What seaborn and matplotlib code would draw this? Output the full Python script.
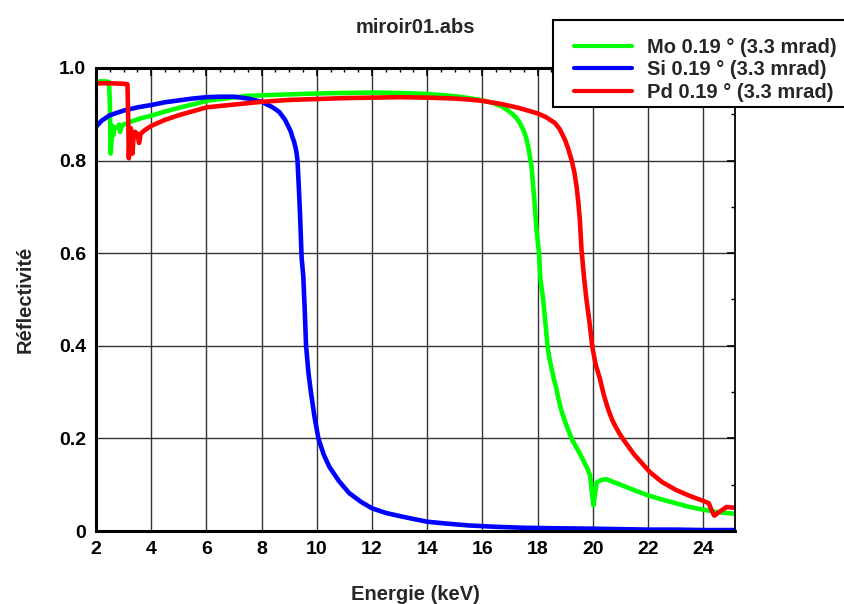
import numpy as np
import pandas as pd
import matplotlib
matplotlib.use("Agg")
import matplotlib.pyplot as plt
from matplotlib.patches import Rectangle
from matplotlib.ticker import MultipleLocator, FuncFormatter
import seaborn as sns

# Reflectivity curves of three mirror coatings at 0.19 deg grazing incidence
mo_energy = [2.0, 2.3, 2.47, 2.50, 2.53, 2.56, 2.60, 2.63, 2.66, 2.75, 2.84, 2.87, 2.91,
             3.0, 3.3, 3.6, 4.0, 4.5, 5.0, 6.1, 7.5, 8.0, 9.0, 10.0, 11.0, 12.0, 13.0,
             14.0, 15.0, 15.5, 16.0, 16.4, 16.7, 17.0, 17.2, 17.35, 17.5, 17.58, 17.66,
             17.78, 17.87, 17.96, 18.05, 18.1, 18.2, 18.28, 18.36, 18.43, 18.5, 18.58,
             18.67, 18.75, 18.85, 19.0, 19.24, 19.53, 19.8, 19.9, 20.02, 20.08, 20.14,
             20.3, 20.48, 21.0, 21.5, 22.0, 22.5, 23.0, 23.5, 24.0, 24.5, 25.15]
mo_refl = [0.971, 0.971, 0.970, 0.930, 0.815, 0.840, 0.875, 0.855, 0.870, 0.872, 0.878,
           0.862, 0.872, 0.878, 0.885, 0.891, 0.897, 0.906, 0.914, 0.930, 0.940, 0.941,
           0.943, 0.945, 0.946, 0.947, 0.946, 0.944, 0.939, 0.935, 0.930, 0.924, 0.917,
           0.905, 0.894, 0.882, 0.864, 0.850, 0.830, 0.787, 0.722, 0.650, 0.600, 0.545,
           0.500, 0.450, 0.398, 0.372, 0.352, 0.330, 0.310, 0.287, 0.262, 0.235, 0.198,
           0.167, 0.135, 0.120, 0.055, 0.080, 0.105, 0.110, 0.112, 0.100, 0.088, 0.077,
           0.068, 0.060, 0.052, 0.046, 0.041, 0.037]

si_energy = [2.0, 2.2, 2.5, 3.0, 3.5, 4.0, 4.5, 5.0, 5.5, 6.0, 6.5, 7.0, 7.5, 8.0, 8.4,
             8.64, 8.85, 9.0, 9.06, 9.12, 9.18, 9.24, 9.27, 9.30, 9.35, 9.39, 9.45, 9.51,
             9.56, 9.61, 9.70, 9.79, 9.92, 10.06, 10.15, 10.25, 10.45, 10.8, 11.17, 11.6,
             12.0, 12.5, 13.1, 13.5, 14.0, 14.7, 15.5, 16.5, 17.5, 18.5, 20.0, 21.0, 22.0,
             23.0, 24.0, 25.15]
si_refl = [0.873, 0.886, 0.898, 0.908, 0.915, 0.920, 0.926, 0.930, 0.934, 0.937, 0.938,
           0.938, 0.934, 0.927, 0.915, 0.905, 0.888, 0.870, 0.862, 0.850, 0.840, 0.825,
           0.815, 0.800, 0.740, 0.687, 0.590, 0.550, 0.480, 0.400, 0.340, 0.298, 0.245,
           0.199, 0.183, 0.165, 0.139, 0.108, 0.082, 0.063, 0.049, 0.039, 0.031, 0.026,
           0.020, 0.016, 0.012, 0.009, 0.007, 0.006, 0.005, 0.004, 0.003, 0.003, 0.002,
           0.002]

pd_energy = [2.0, 2.5, 3.0, 3.14, 3.17, 3.19, 3.22, 3.26, 3.29, 3.32, 3.36, 3.42, 3.50,
             3.56, 3.62, 3.75, 4.0, 4.5, 5.0, 6.0, 7.0, 8.0, 9.0, 10.0, 11.0, 12.0, 13.0,
             14.0, 15.0, 15.5, 16.0, 16.7, 17.3, 18.0, 18.3, 18.63, 18.8, 18.99, 19.1,
             19.23, 19.33, 19.41, 19.47, 19.53, 19.59, 19.69, 19.77, 19.88, 19.98, 20.1,
             20.26, 20.4, 20.56, 20.7, 20.8, 20.95, 21.1, 21.5, 22.07, 22.5, 23.0, 23.5,
             24.0, 24.2, 24.3, 24.4, 24.55, 24.85, 25.15]
pd_refl = [0.967, 0.967, 0.966, 0.965, 0.880, 0.805, 0.860, 0.870, 0.862, 0.815, 0.850,
           0.862, 0.857, 0.838, 0.858, 0.865, 0.875, 0.888, 0.898, 0.915, 0.921, 0.927,
           0.931, 0.933, 0.935, 0.936, 0.937, 0.936, 0.934, 0.932, 0.929, 0.922, 0.914,
           0.902, 0.894, 0.881, 0.868, 0.845, 0.827, 0.801, 0.775, 0.744, 0.712, 0.672,
           0.607, 0.542, 0.499, 0.450, 0.398, 0.360, 0.328, 0.293, 0.262, 0.240, 0.228,
           0.212, 0.198, 0.165, 0.127, 0.106, 0.089, 0.076, 0.065, 0.060, 0.045, 0.033,
           0.040, 0.052, 0.050]

series_labels = ["Mo 0.19 ° (3.3 mrad)", "Si 0.19 ° (3.3 mrad)", "Pd 0.19 ° (3.3 mrad)"]
series_colors = ["#00ff00", "#0000ff", "#ff0000"]
x_ticks = [2, 4, 6, 8, 10, 12, 14, 16, 18, 20, 22, 24]
y_ticks = [0.0, 0.2, 0.4, 0.6, 0.8, 1.0]

frames = []
for label, e, r in zip(series_labels,
                       [mo_energy, si_energy, pd_energy],
                       [mo_refl, si_refl, pd_refl]):
    frames.append(pd.DataFrame({"Energie": e, "Reflectivite": r, "serie": label}))
data = pd.concat(frames, ignore_index=True)

sns.set_style("white")
plt.rcParams["font.family"] = ["Liberation Sans", "DejaVu Sans"]
plt.rcParams["font.weight"] = "bold"

W, H = 844, 604
fig = plt.figure(figsize=(W / 100, H / 100), dpi=100)
ax = fig.add_axes([96 / W, 73 / H, 639 / W, 463 / H])

sns.lineplot(data=data, x="Energie", y="Reflectivite", hue="serie",
             hue_order=series_labels, palette=series_colors,
             estimator=None, sort=False, linewidth=3.3, ax=ax, legend=False)

ax.set_xlim(2, 25.15)
ax.set_ylim(0, 1.0)
ax.set_xticks(x_ticks)
ax.set_yticks(y_ticks)
ax.xaxis.set_minor_locator(MultipleLocator(0.5))
ax.yaxis.set_minor_locator(MultipleLocator(0.1))
ax.yaxis.set_major_formatter(FuncFormatter(lambda v, p: "0" if abs(v) < 1e-9 else f"{v:.1f}"))
ax.xaxis.set_major_formatter(FuncFormatter(lambda v, p: f"{v:.0f}"))

ax.grid(True, which="major", color="0.2", linewidth=1.0)
ax.set_axisbelow(True)
ax.tick_params(which="both", direction="in", top=True, right=True,
               labelsize=14, pad=7, colors="black")
ax.tick_params(which="major", length=6, width=1.2)
ax.tick_params(which="minor", length=3, width=1.0)
for lbl in ax.get_xticklabels() + ax.get_yticklabels():
    lbl.set_fontweight("bold")

for side in ["left", "bottom", "top"]:
    ax.spines[side].set_linewidth(2.2)
    ax.spines[side].set_color("black")
ax.spines["right"].set_linewidth(1.3)
ax.spines["right"].set_color("black")

ax.set_title("miroir01.abs", fontsize=14.5, fontweight="bold", pad=25)
ax.set_xlabel("Energie (keV)", fontsize=14.5, fontweight="bold", labelpad=20)
ax.set_ylabel("Réflectivité", fontsize=14.5, fontweight="bold", labelpad=18)

# Legend box, running off the right edge of the figure
box = Rectangle((553 / W, 1 - 107 / H), 300 / W, 87 / H, transform=fig.transFigure,
                facecolor="white", edgecolor="black", linewidth=1.5, zorder=5,
                clip_on=False)
fig.add_artist(box)

handles = [plt.Line2D([], [], color=c, linewidth=3.0) for c in series_colors]
leg = fig.legend(handles, series_labels, loc="upper left",
                 bbox_to_anchor=(574 / W, 1 - 38 / H), bbox_transform=fig.transFigure,
                 frameon=False, borderaxespad=0, borderpad=0, handlelength=2.9,
                 handletextpad=0.72, labelspacing=0.17,
                 prop={"size": 14.5, "weight": "bold"})
leg.set_zorder(6)

fig.savefig("out.png", dpi=100)
